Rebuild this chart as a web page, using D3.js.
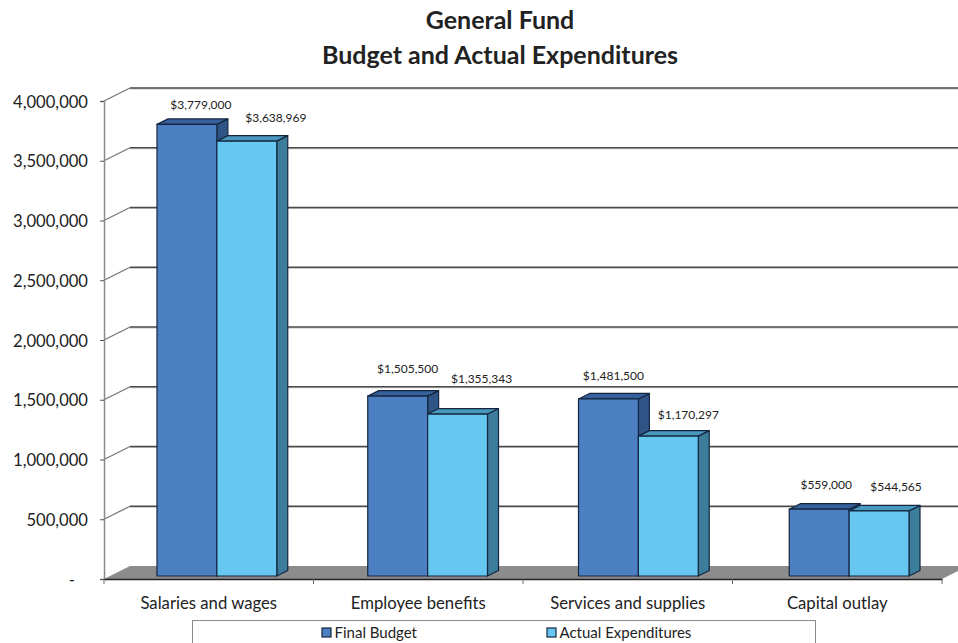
<!DOCTYPE html>
<html>
<head>
<meta charset="utf-8">
<script src="https://cdn.jsdelivr.net/npm/d3@7"></script>
<style>
  html, body { margin: 0; padding: 0; background: #fff; }
  svg { display: block; }
  text { font-family: Lato, "Open Sans", sans-serif; fill: #222; }
</style>
</head>
<body>
<div id="chart"></div>
<script>
const titleLines = ["General Fund", "Budget and Actual Expenditures"];
const categories = ["Salaries and wages", "Employee benefits", "Services and supplies", "Capital outlay"];
const seriesNames = ["Final Budget", "Actual Expenditures"];
const finalBudget = [3779000, 1505500, 1481500, 559000];
const actualExpenditures = [3638969, 1355343, 1170297, 544565];
const yTicks = [0, 500000, 1000000, 1500000, 2000000, 2500000, 3000000, 3500000, 4000000];

const width = 958;
const height = 643;

// box of the chart, front plane
const plotLeft = 104, plotRight = 942, plotBottom = 579, plotTop = 101;
// depth of the walls and of the bars
const wallX = 26, wallY = 13;
const barX = 11, barY = 5.5;
// bars stand a little way into the floor, so their plane is a bit wider
const barPlaneLeft = 111.5, barPlaneRight = 954.5, barShiftY = 3;
const groupGap = 91;

const colors = [
  { front: "#4d80c3", side: "#2f5486", top: "#35609b" },
  { front: "#66c8f0", side: "#3c7d9b", top: "#4798bc" },
];

// the labels were dragged by hand in the original: [dx, dy] from the default spot
const labelNudge = [
  [[3, 0], [18, -4]],
  [[-1, -8], [13, -16]],
  [[-6, -4], [9, -2]],
  [[-4, -5], [6, -5]],
].flat();

const x = d3.scaleBand().domain(categories).range([plotLeft, plotRight]);
const xBars = d3.scaleBand().domain(categories).range([barPlaneLeft, barPlaneRight]);
const xInner = d3.scaleBand().domain(seriesNames)
  .range([0, xBars.bandwidth() - groupGap]);
const y = d3.scaleLinear().domain([0, 4000000]).range([plotBottom, plotTop]);

const svg = d3.select("#chart").append("svg")
  .attr("width", width)
  .attr("height", height)
  .attr("viewBox", [0, 0, width, height]);

svg.append("g")
  .attr("text-anchor", "middle")
  .selectAll("text")
  .data(titleLines)
  .join("text")
  .attr("x", 500)
  .attr("y", (d, i) => 29 + i * 35)
  .attr("font-size", 25)
  .attr("font-weight", "bold")
  .text((d) => d);

// floor
const floor = d3.path();
floor.moveTo(plotLeft, plotBottom);
floor.lineTo(plotLeft + wallX, plotBottom - wallY);
floor.lineTo(plotRight + wallX, plotBottom - wallY);
floor.lineTo(plotRight, plotBottom);
floor.closePath();
svg.append("path").attr("d", floor.toString()).attr("fill", "#8c8c8c");

// grid: a diagonal on the side wall, then the line along the back wall
const grid = svg.append("g").attr("fill", "none");
yTicks.filter((d) => d > 0).forEach((d) => {
  grid.append("path")
    .attr("d", `M${plotLeft},${y(d)}L${plotLeft + wallX},${y(d) - wallY}`)
    .attr("stroke", "#777")
    .attr("stroke-width", 1.3);
  grid.append("line")
    .attr("x1", plotLeft + wallX)
    .attr("x2", plotRight + wallX)
    .attr("y1", y(d) - wallY + 1)
    .attr("y2", y(d) - wallY + 1)
    .attr("stroke", "#c4c4c4")
    .attr("stroke-width", 1);
  grid.append("line")
    .attr("x1", plotLeft + wallX)
    .attr("x2", plotRight + wallX)
    .attr("y1", y(d) - wallY)
    .attr("y2", y(d) - wallY)
    .attr("stroke", "#4a4a4a")
    .attr("stroke-width", 1.3);
});

// left axis
const yAxis = d3.axisLeft(y)
  .tickValues(yTicks)
  .tickSize(4)
  .tickFormat((d) => (d === 0 ? "-" : d3.format(",")(d)));
svg.append("g")
  .attr("transform", `translate(${plotLeft},0)`)
  .call(yAxis)
  .call((g) => g.select(".domain").attr("stroke", "#8a8a8a").attr("stroke-width", 1.5))
  .call((g) => g.selectAll(".tick line").attr("stroke", "#555"))
  .call((g) => g.selectAll(".tick text")
    .attr("x", (d) => (d === 0 ? -29 : -16))
    .attr("y", 0.8)
    .attr("font-size", 16.6)
    .style("fill", "#222"));

// bars, one series after the other so the second sits over the side of the first
const bars = categories.flatMap((c, i) => [
  { cat: c, s: 0, name: seriesNames[0], value: finalBudget[i] },
  { cat: c, s: 1, name: seriesNames[1], value: actualExpenditures[i] },
]);

const barW = xInner.bandwidth();
const barLeft = (d) => xBars(d.cat) + groupGap / 2 + xInner(d.name);
const barTop = (d) => y(d.value) - barShiftY;
const barBase = y(0) - barShiftY;

const bar = svg.append("g")
  .attr("stroke", "#14263f")
  .attr("stroke-width", 1.2)
  .attr("stroke-linejoin", "round")
  .selectAll("g")
  .data(bars)
  .join("g");

bar.append("path")
  .attr("fill", (d) => colors[d.s].side)
  .attr("d", (d) => {
    const r = barLeft(d) + barW;
    return `M${r},${barTop(d)}l${barX},${-barY}V${barBase - barY}l${-barX},${barY}Z`;
  });

bar.append("path")
  .attr("fill", (d) => colors[d.s].top)
  .attr("d", (d) => {
    const l = barLeft(d);
    return `M${l},${barTop(d)}l${barX},${-barY}h${barW}l${-barX},${barY}Z`;
  });

bar.append("rect")
  .attr("fill", (d) => colors[d.s].front)
  .attr("x", barLeft)
  .attr("y", barTop)
  .attr("width", barW)
  .attr("height", (d) => barBase - barTop(d));

// value labels
const money = d3.format("$,");
svg.append("g")
  .attr("text-anchor", "middle")
  .selectAll("text")
  .data(bars)
  .join("text")
  .attr("x", (d, i) => barLeft(d) + barW / 2 + barX + labelNudge[i][0])
  .attr("y", (d, i) => barTop(d) - 15 + labelNudge[i][1])
  .attr("font-size", 12)
  .text((d) => money(d.value));

// front edge and bottom axis
const xAxis = d3.axisBottom(x).tickSize(0).tickPadding(18);
svg.append("g")
  .attr("transform", `translate(0,${plotBottom})`)
  .call(xAxis)
  .call((g) => g.select(".domain").attr("stroke", "#222").attr("stroke-width", 1.5))
  .call((g) => g.selectAll(".tick text")
    .attr("font-size", 16.7)
    .style("fill", "#222"));

svg.append("g")
  .selectAll("line")
  .data(categories.concat("end"))
  .join("line")
  .attr("x1", (d) => (d === "end" ? plotRight : x(d)))
  .attr("x2", (d) => (d === "end" ? plotRight : x(d)))
  .attr("y1", plotBottom)
  .attr("y2", plotBottom + 5)
  .attr("stroke", "#666");

// legend, cut off by the bottom of the page
const legend = svg.append("g");
legend.append("rect")
  .attr("x", 192.5)
  .attr("y", 620.5)
  .attr("width", 623)
  .attr("height", 40)
  .attr("fill", "#fff")
  .attr("stroke", "#8a8a8a");

const legendX = [322, 547];
const item = legend.selectAll("g")
  .data(seriesNames)
  .join("g")
  .attr("transform", (d, i) => `translate(${legendX[i]},628)`);
item.append("rect")
  .attr("width", 9)
  .attr("height", 9)
  .attr("fill", (d, i) => colors[i].front)
  .attr("stroke", "#14263f")
  .attr("stroke-width", 1.2);
item.append("text")
  .attr("x", 12.5)
  .attr("y", 10)
  .attr("font-size", 15)
  .text((d) => d);
</script>
</body>
</html>
